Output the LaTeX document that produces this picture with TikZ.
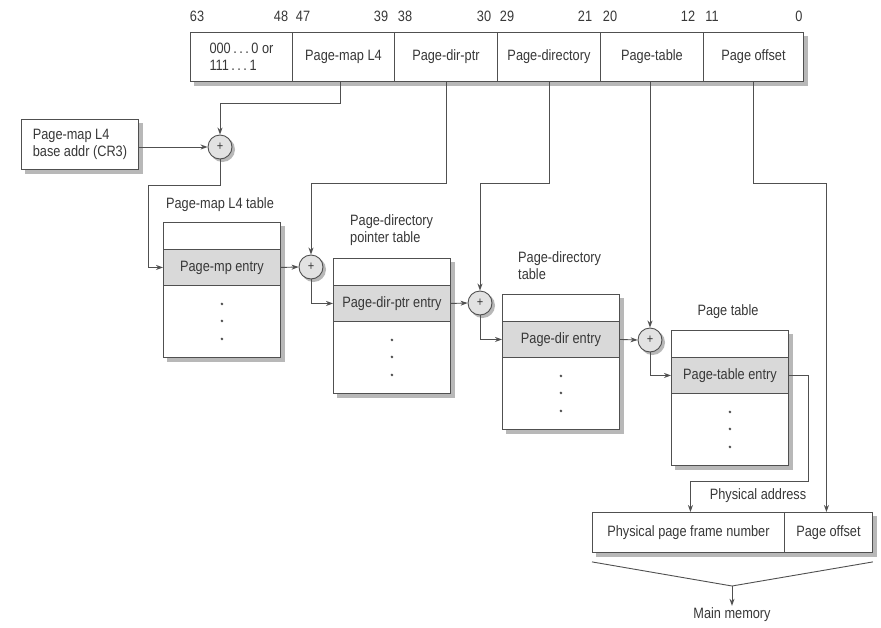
\documentclass[tikz,border=0pt]{standalone}
\usepackage{fontspec}
\setmainfont{Liberation Sans}[FakeStretch=0.85]
\usetikzlibrary{arrows.meta,calc,backgrounds}
\definecolor{ln}{HTML}{505050}
\definecolor{tx}{HTML}{383838}
\definecolor{band}{HTML}{D9D9D9}
\definecolor{circ}{HTML}{E2E2E2}
\definecolor{shd}{HTML}{B8B8B8}
\begin{document}
\begin{tikzpicture}[x=1pt,y=-1pt,
  every node/.style={font=\fontsize{15}{17}\selectfont, text=tx, inner sep=0pt},
  box/.style={rectangle, draw=ln, line width=0.9pt, fill=white, anchor=north west},
  field/.style={box, minimum height=49pt},
  bit/.style={font=\fontsize{15}{17}\selectfont},
  plus/.style={circle, draw=ln, line width=0.9pt, fill=circ, minimum size=24pt,
    font=\fontsize{13}{13}\selectfont},
  conn/.style={draw=ln, line width=0.9pt, -{Stealth[length=7pt,width=5pt]}},
  plain/.style={draw=ln, line width=0.9pt},
  title/.style={align=left},
  dot/.style={circle, fill=ln, minimum size=2.8pt, inner sep=0pt},
  shadowfill/.style={fill=shd}
]
\useasboundingbox (0,0) rectangle (881,627);

% bit numbers
\foreach \n/\xx in {63/197, 48/281, 47/303, 39/381, 38/405, 30/484, 29/507, 21/585, 20/610, 12/688, 11/712, 0/799}
  \node[bit] (b\n) at (\xx,16) {\n};

% virtual address fields
\node[field, minimum width=102pt] (f0) at (190,32) {};
\node[align=left] (f0t) at (f0.center) {000\,.\,.\,.\,0 or\\111\,.\,.\,.\,1};
\node[field, minimum width=102pt] (f1) at (292,32) {Page-map L4};
\node[field, minimum width=103pt] (f2) at (394,32) {Page-dir-ptr};
\node[field, minimum width=103pt] (f3) at (497,32) {Page-directory};
\node[field, minimum width=103pt] (f4) at (600,32) {Page-table};
\node[field, minimum width=100pt] (f5) at (703,32) {Page offset};

% CR3
\node[box, minimum width=117pt, minimum height=50pt] (cr3) at (21,119) {};
\node[align=left] (cr3t) at (cr3.center) {Page-map L4\\base addr (CR3)};

% adders
\node[plus] (c1) at (220,147) {+};
\node[plus] (c2) at (311,267) {+};
\node[plus] (c3) at (480,303) {+};
\node[plus] (c4) at (650,340) {+};

% tables
\foreach \i/\x/\y/\txt in {1/163/222/Page-mp entry, 2/333/258/Page-dir-ptr entry, 3/502/294/Page-dir entry, 4/671/330/Page-table entry}{
  \node[box, minimum width=117pt, minimum height=135pt] (t\i) at (\x,\y) {};
  \node[box, fill=band, minimum width=117pt, minimum height=36pt] (e\i) at (\x,\y+27) {\txt};
  \node[dot] (d\i a) at ($(e\i.south)+(0,18)$) {};
  \node[dot] (d\i b) at ($(e\i.south)+(0,35)$) {};
  \node[dot] (d\i c) at ($(e\i.south)+(0,53)$) {};
}

% table titles
\node (h1) at (220,205) {Page-map L4 table};
\node[title, anchor=west] (h2) at (350,230) {Page-directory\\pointer table};
\node[title, anchor=west] (h3) at (518,266) {Page-directory\\table};
\node (h4) at (728,312) {Page table};

% physical address
\node[box, minimum width=192pt, minimum height=40pt] (pf) at (592,512) {Physical page frame number};
\node[box, minimum width=88pt, minimum height=40pt] (po) at (784,512) {Page offset};
\node (pa) at (758,496) {Physical address};
\node[inner sep=2pt] (mm) at (732,615) {Main memory};
\coordinate (fun) at (732,586);

% white page and drop shadows
\begin{scope}[on background layer]
  \fill[white] (0,0) rectangle (881,627);
  \foreach \b in {cr3, t1, t2, t3, t4}
    \fill[shadowfill] ($(\b.north west)+(4,4)$) rectangle ($(\b.south east)+(4,4)$);
  \fill[shadowfill] ($(f0.north west)+(4,4)$) rectangle ($(f5.south east)+(4,4)$);
  \fill[shadowfill] ($(pf.north west)+(4,4)$) rectangle ($(po.south east)+(4,4)$);
  \foreach \c in {c1, c2, c3, c4}
    \fill[shadowfill] ($(\c.center)+(2.5,2.5)$) circle (12.5);
\end{scope}

% connectors from the virtual address
\draw[conn] ([xshift=-3pt]f1.south) -- ++(0,22) -| (c1.north);
\draw[conn] (f2.south) -- ++(0,102) -| (c2.north);
\draw[conn] (f3.south) -- ++(0,102) -| (c3.north);
\draw[conn] (c4.north |- f4.south) -- (c4.north);
\draw[conn] (f5.south) -- ++(0,102) -| ([xshift=-2pt]po.north);

% CR3 to adder
\draw[conn] (cr3.east |- c1.west) -- (c1.west);
\draw[conn] (c1.south) -- ++(0,26) -| ($(e1.west)+(-15,0)$) -- (e1.west);

% chain
\draw[conn] (e1.east) -- (c2.west);
\draw[conn] (c2.south) |- (e2.west);
\draw[conn] (e2.east) -- (c3.west);
\draw[conn] (c3.south) |- (e3.west);
\draw[conn] (e3.east) -- (c4.west);
\draw[conn] (c4.south) |- (e4.west);

% page-table entry to physical frame
\draw[conn] (e4.east) -- ++(20,0) -- ++(0,106) -| ([xshift=2pt]pf.north);

% funnel to main memory
\draw[plain] ([yshift=-9pt]pf.south west) -- (fun) -- ([yshift=-9pt]po.south east);
\draw[conn] (fun) -- (mm.north);
\end{tikzpicture}
\end{document}
